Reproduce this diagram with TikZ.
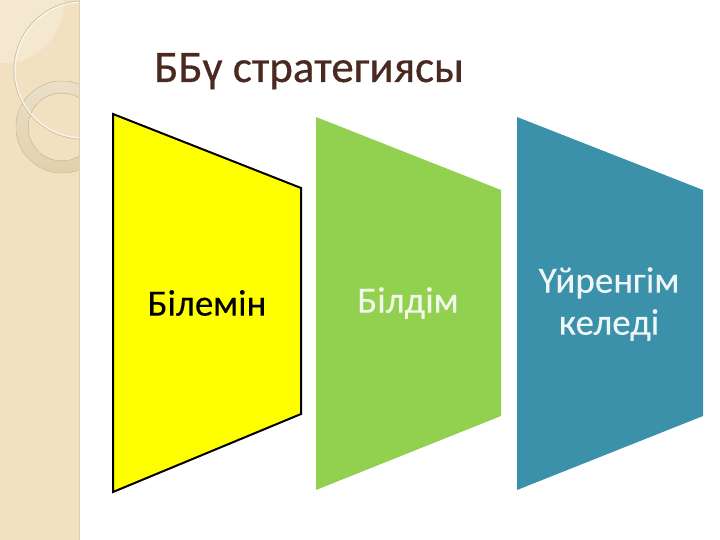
\documentclass[tikz,border=0pt]{standalone}
\usepackage{fontspec}
\setmainfont{Carlito}
\newfontfamily\titlefont[FakeBold=0.6]{Carlito}
\newfontfamily\panelfont[FakeBold=0.15]{Carlito}
\definecolor{band}{RGB}{242,225,192}
\definecolor{bandlight}{RGB}{244,232,208}
\definecolor{bandedge}{RGB}{222,208,180}
\definecolor{ringtop}{RGB}{234,224,200}
\definecolor{ringbot}{RGB}{226,209,170}
\definecolor{ringedge}{RGB}{216,202,170}
\definecolor{arcshadow}{RGB}{208,196,170}
\definecolor{titlecol}{RGB}{74,42,32}
\definecolor{yellowfill}{RGB}{255,255,0}
\definecolor{greenfill}{RGB}{146,208,80}
\definecolor{tealfill}{RGB}{58,145,169}
\tikzset{
  panel/.style={draw=none},
  paneltext/.style={align=center,font=\panelfont\fontsize{37}{42}\selectfont,inner sep=0pt},
}
\begin{document}
\begin{tikzpicture}[x=1pt,y=-1pt]
\useasboundingbox (0,0) rectangle (720,540);
\fill[white] (0,0) rectangle (720,540);
% left decorative band
\fill[band] (0,0) rectangle (79,540);
\draw[bandedge,line width=1pt] (79,0) -- (79,540);
\begin{scope}
\clip (0,0) rectangle (79,63);
\fill[bandlight] (0,0) circle (64.5);
\end{scope}
\begin{scope}
\clip (0,0) rectangle (78.5,540);
\fill[top color=ringtop,bottom color=ringbot,even odd rule] (62,127) circle (46) (62,127) circle (34);
\draw[ringedge,line width=0.6pt] (62,127) circle (46) (62,127) circle (34);
\draw[arcshadow,line width=1.2pt] (83,70) circle (69);
\draw[white!75!band,line width=1.1pt] (83,70) circle (68);
\end{scope}
% title
\node[anchor=base west,inner sep=0pt,text=titlecol,font=\titlefont\fontsize{45}{50}\selectfont] (title) at (154,82) {ББү стратегиясы};
% panels
\draw[panel,draw=black,fill=yellowfill,line width=2pt,line join=miter] (113,114) -- (301,188) -- (301,414) -- (113,492) -- cycle;
\fill[panel,greenfill] (316,117) -- (501,190) -- (501,416) -- (316,490) -- cycle;
\fill[panel,tealfill] (517,117) -- (703,190) -- (703,416) -- (517,490) -- cycle;
\node[paneltext,text=black] (a) at (207,303) {Білемін};
\node[paneltext,text=white!88!greenfill] (b) at (408,303) {Білдім};
\node[paneltext,text=white!92!tealfill] (c) at (609,304) {Үйренгім\\келеді};
\end{tikzpicture}
\end{document}
